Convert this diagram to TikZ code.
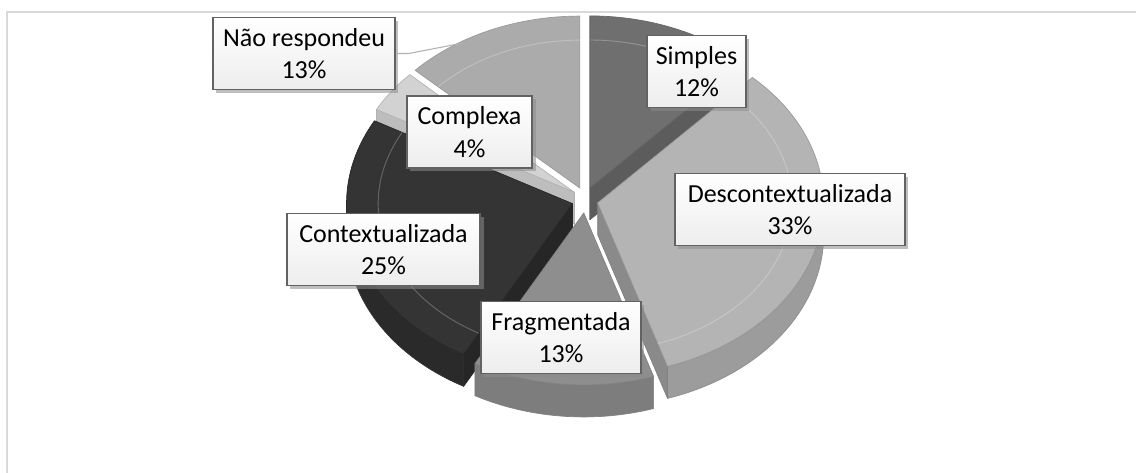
\documentclass[tikz,border=0pt]{standalone}
\usepackage{fontspec}
\setmainfont{Carlito}
\usetikzlibrary{shadows}
\definecolor{cNR}{HTML}{ABABAB}
\definecolor{cSI}{HTML}{6F6F6F}
\definecolor{cSIf}{HTML}{5C5C5C}
\definecolor{cCO}{HTML}{D2D2D2}
\definecolor{cCOf}{HTML}{BDBDBD}
\definecolor{cCT}{HTML}{343434}
\definecolor{cCTs}{HTML}{2A2A2A}
\definecolor{cCTf}{HTML}{262626}
\definecolor{cDE}{HTML}{B4B4B4}
\definecolor{cDEs}{HTML}{9C9C9C}
\definecolor{cDEf}{HTML}{8A8A8A}
\definecolor{cFR}{HTML}{8E8E8E}
\definecolor{cFRs}{HTML}{7D7D7D}
\definecolor{cFrame}{HTML}{D9D9D9}
\definecolor{cBorder}{HTML}{626262}
\def\pcx{585}\def\pcy{200}\def\prx{226}\def\pry{172}\def\pth{32}\def\pex{13}
\newcommand\sliceoff[2]{%
  \pgfmathsetmacro\smid{(#1+#2)/2}%
  \pgfmathsetmacro\sox{\pcx+\pex*sin(\smid)}%
  \pgfmathsetmacro\soy{\pcy-\pex*cos(\smid)}%
}
\newcommand\slicetop[3]{%
  \sliceoff{#1}{#2}%
  \path[#3] (\sox,\soy) -- plot[domain=#1:#2,samples=60,variable=\t] ({\sox+\prx*sin(\t)},{\soy-\pry*cos(\t)}) -- cycle;
}
\newcommand\slicerim[5]{%
  \sliceoff{#1}{#2}%
  \path[#5] plot[domain=#3:#4,samples=50,variable=\t] ({\sox+\prx*sin(\t)},{\soy-\pry*cos(\t)}) -- plot[domain=#4:#3,samples=50,variable=\t] ({\sox+\prx*sin(\t)},{\soy+\pth-\pry*cos(\t)}) -- cycle;
}
\newcommand\sliceface[4]{%
  \sliceoff{#1}{#2}%
  \path[#4] (\sox,\soy) -- ({\sox+\prx*sin(#3)},{\soy-\pry*cos(#3)}) -- ({\sox+\prx*sin(#3)},{\soy+\pth-\pry*cos(#3)}) -- ({\sox},{\soy+\pth}) -- cycle;
}
\newcommand\slicebevel[3]{%
  \sliceoff{#1}{#2}%
  \path[#3] plot[domain=#1:#2,samples=50,variable=\t] ({\sox+0.86*\prx*sin(\t)},{\soy-0.86*\pry*cos(\t)});
}
\begin{document}
\begin{tikzpicture}[x=0.75pt,y=-0.75pt,
  lbl/.style={draw=cBorder, line width=1.4pt, top color=white, bottom color=black!7,
    minimum height=54pt, inner sep=0pt, align=center,
    font=\fontsize{19.5}{24.5}\selectfont,
    drop shadow={shadow xshift=2.5pt,shadow yshift=-2.5pt,fill=black!45,opacity=0.55}},
  frame/.style={draw=cFrame, line width=2pt},
  edge/.style={line width=0.5pt, line join=round},
  bevel/.style={draw=white, draw opacity=0.25, line width=0.7pt},
  leader/.style={draw=black!30, line width=0.8pt}]
\useasboundingbox (0,0) rectangle (1138,473);
\fill[white] (0,0) rectangle (1138,473);
\draw[frame] (1136,12) -- (7,12) -- (7,473);

% Nao respondeu
\slicetop{313.2}{360}{fill=cNR, draw=black!40, edge}
\slicebevel{313.2}{360}{bevel}
% Simples
\sliceface{0}{43.2}{43.2}{fill=cSIf, draw=black!60, edge}
\slicetop{0}{43.2}{fill=cSI, draw=black!60, edge}
\slicebevel{0}{43.2}{bevel}
% Complexa
\sliceface{298.8}{313.2}{298.8}{fill=cCOf, draw=black!30, edge}
\slicetop{298.8}{313.2}{fill=cCO, draw=black!30, edge}
% Contextualizada
\slicerim{208.8}{298.8}{208.8}{270}{fill=cCTs, draw=black!80, edge}
\sliceface{208.8}{298.8}{208.8}{fill=cCTf, draw=black!85, edge}
\slicetop{208.8}{298.8}{fill=cCT, draw=black!85, edge}
\slicebevel{208.8}{298.8}{bevel}
% Descontextualizada
\slicerim{43.2}{162}{90}{162}{fill=cDEs, draw=black!45, edge}
\sliceface{43.2}{162}{162}{fill=cDEf, draw=black!50, edge}
\slicetop{43.2}{162}{fill=cDE, draw=black!40, edge}
\slicebevel{43.2}{162}{bevel}
% Fragmentada
\slicerim{162}{208.8}{162}{208.8}{fill=cFRs, draw=black!50, edge}
\slicetop{162}{208.8}{fill=cFR, draw=black!50, edge}
\slicebevel{162}{208.8}{bevel}

% labels
\node[lbl, minimum width=136.5pt] (nr) at (304,53.5) {Não respondeu\\13\%};
\node[lbl, minimum width=94pt] (co) at (469.5,132) {Complexa\\4\%};
\node[lbl, minimum width=145pt] (ct) at (383.5,249.5) {Contextualizada\\25\%};
\node[lbl, minimum width=120pt] (fr) at (561,337.5) {Fragmentada\\13\%};
\node[lbl, minimum width=74pt] (si) at (696.5,71.5) {Simples\\12\%};
\node[lbl, minimum width=172.5pt] (de) at (790,209.5) {Descontextualizada\\33\%};

\coordinate (nrend) at (463,43);
\draw[leader] (nr.east) -- ++(13,0) -- (nrend);
\end{tikzpicture}
\end{document}
